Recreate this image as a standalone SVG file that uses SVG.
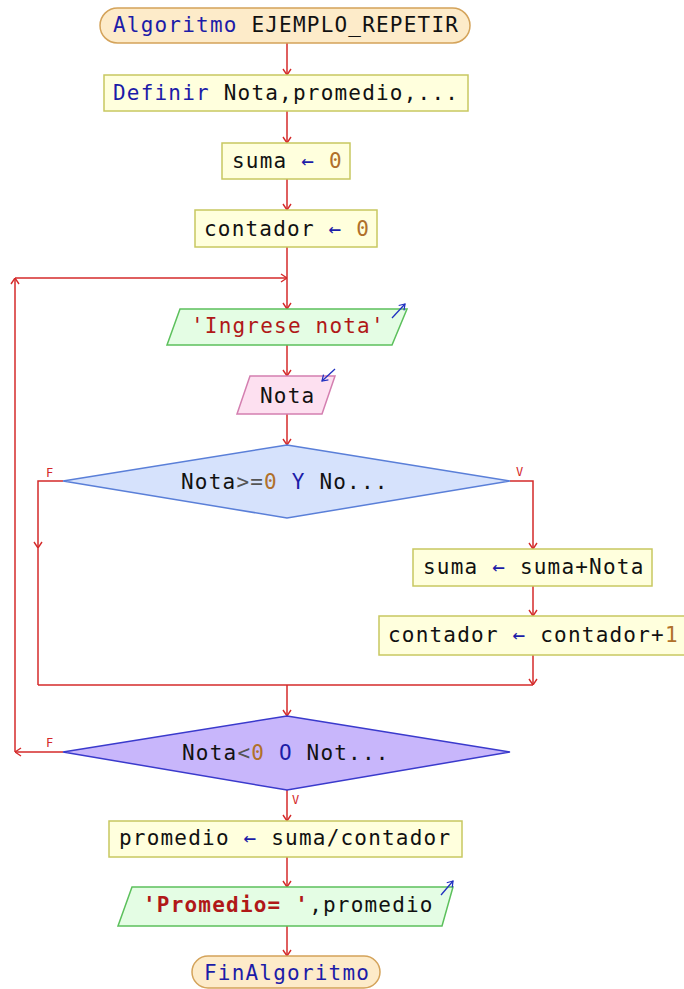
<svg xmlns="http://www.w3.org/2000/svg" width="684" height="989" viewBox="0 0 684 989">
<defs>
<marker id="ah" viewBox="0 0 10 10" refX="10" refY="5" markerWidth="10" markerHeight="10" markerUnits="userSpaceOnUse" orient="auto">
<path d="M4,1 L10,5 L4,9" fill="none" stroke="#d42a2a" stroke-width="1.4"/>
</marker>
<marker id="bh" viewBox="0 0 10 10" refX="9" refY="5" markerWidth="9" markerHeight="9" markerUnits="userSpaceOnUse" orient="auto">
<path d="M3,1 L9,5 L3,9" fill="none" stroke="#2030c0" stroke-width="1.4"/>
</marker>
</defs>
<style>
text{font-family:"DejaVu Sans Mono","Liberation Mono",monospace;font-size:21px;letter-spacing:1.2px;fill:#111}
.kw{fill:#1c1ca8}
.num{fill:#b0702a}
.op{fill:#555}
.str{fill:#b01818}
.lbl{font-family:"DejaVu Sans Mono","Liberation Mono",monospace;font-size:12px;letter-spacing:0;fill:#d42a2a}
.term{fill:#fdebc9;stroke:#d4a35a;stroke-width:1.5}
.proc{fill:#ffffdd;stroke:#c8c860;stroke-width:1.5}
.out{fill:#e4fde4;stroke:#5cc05c;stroke-width:1.5}
.inp{fill:#fde0f0;stroke:#d47fb0;stroke-width:1.5}
.d1{fill:#d6e2fc;stroke:#5a7fd8;stroke-width:1.5}
.d2{fill:#c8b6fb;stroke:#3a3acc;stroke-width:1.5}
.c{fill:none;stroke:#d42a2a;stroke-width:1.5}
.io{fill:none;stroke:#2030c0;stroke-width:1.3}
</style>
<g id="connectors">
<path class="c" d="M287,43 V75" marker-end="url(#ah)"/>
<path class="c" d="M287,111 V143" marker-end="url(#ah)"/>
<path class="c" d="M287,179 V210" marker-end="url(#ah)"/>
<path class="c" d="M287,247 V309" marker-end="url(#ah)"/>
<path class="c" d="M287,345 V376" marker-end="url(#ah)"/>
<path class="c" d="M287,414 V445" marker-end="url(#ah)"/>
<path class="c" d="M63,481 H38 V548" marker-end="url(#ah)"/>
<path class="c" d="M38,548 V685"/>
<path class="c" d="M510,481 H533 V549" marker-end="url(#ah)"/>
<path class="c" d="M533,586 V616" marker-end="url(#ah)"/>
<path class="c" d="M533,655 V685" marker-end="url(#ah)"/>
<path class="c" d="M38,685 H533"/>
<path class="c" d="M287,685 V716" marker-end="url(#ah)"/>
<path class="c" d="M63,752 H15" marker-end="url(#ah)"/>
<path class="c" d="M15,752 V278" marker-end="url(#ah)"/>
<path class="c" d="M15,278 H287" marker-end="url(#ah)"/>
<path class="c" d="M287,790 V821" marker-end="url(#ah)"/>
<path class="c" d="M287,857 V887" marker-end="url(#ah)"/>
<path class="c" d="M287,926 V956" marker-end="url(#ah)"/>
<text class="lbl" x="46" y="477">F</text>
<text class="lbl" x="516" y="476">V</text>
<text class="lbl" x="46" y="747">F</text>
<text class="lbl" x="292" y="804">V</text>
</g>
<g id="start">
<rect class="term" x="100" y="8" width="370" height="35" rx="17.5"/>
<text x="113" y="32"><tspan class="kw">Algoritmo</tspan> EJEMPLO_REPETIR</text>
</g>
<g id="definir">
<rect class="proc" x="104" y="75" width="364" height="36"/>
<text x="113" y="100"><tspan class="kw">Definir</tspan> Nota,promedio,...</text>
</g>
<g id="suma0">
<rect class="proc" x="222" y="143" width="128" height="36"/>
<text x="232" y="168">suma <tspan class="kw">←</tspan> <tspan class="num">0</tspan></text>
</g>
<g id="contador0">
<rect class="proc" x="195" y="210" width="182" height="37"/>
<text x="204" y="236">contador <tspan class="kw">←</tspan> <tspan class="num">0</tspan></text>
</g>
<g id="ingrese">
<polygon class="out" points="180,309 407,309 392,345 167,345"/>
<text x="191" y="333" class="str">'Ingrese nota'</text>
<path class="io" d="M392,318 L405,304" marker-end="url(#bh)"/>
</g>
<g id="leer">
<polygon class="inp" points="250,376 335,376 322,414 237,414"/>
<text x="260" y="403">Nota</text>
<path class="io" d="M335,369 L322,381" marker-end="url(#bh)"/>
</g>
<g id="cond1">
<polygon class="d1" points="287,445 510,481 287,518 63,481"/>
<text x="181" y="489">Nota<tspan class="op">&gt;=</tspan><tspan class="num">0</tspan> <tspan class="kw">Y</tspan> No...</text>
</g>
<g id="sumaNota">
<rect class="proc" x="413" y="549" width="239" height="37"/>
<text x="423" y="574">suma <tspan class="kw">←</tspan> suma+Nota</text>
</g>
<g id="contadorInc">
<rect class="proc" x="379" y="616" width="308" height="39"/>
<text x="388" y="642">contador <tspan class="kw">←</tspan> contador+<tspan class="num">1</tspan></text>
</g>
<g id="cond2">
<polygon class="d2" points="287,716 510,752 287,790 63,752"/>
<text x="182" y="760">Nota<tspan class="op">&lt;</tspan><tspan class="num">0</tspan> <tspan class="kw">O</tspan> Not...</text>
</g>
<g id="promedio">
<rect class="proc" x="109" y="821" width="353" height="36"/>
<text x="119" y="845">promedio <tspan class="kw">←</tspan> suma/contador</text>
</g>
<g id="escribir">
<polygon class="out" points="132,887 453,887 442,926 118,926"/>
<text x="143" y="912"><tspan class="str" font-weight="bold">'Promedio= '</tspan>,promedio</text>
<path class="io" d="M441,895 L453,881" marker-end="url(#bh)"/>
</g>
<g id="fin">
<rect class="term" x="192" y="956" width="188" height="32" rx="16"/>
<text x="204" y="980" class="kw">FinAlgoritmo</text>
</g>
</svg>
